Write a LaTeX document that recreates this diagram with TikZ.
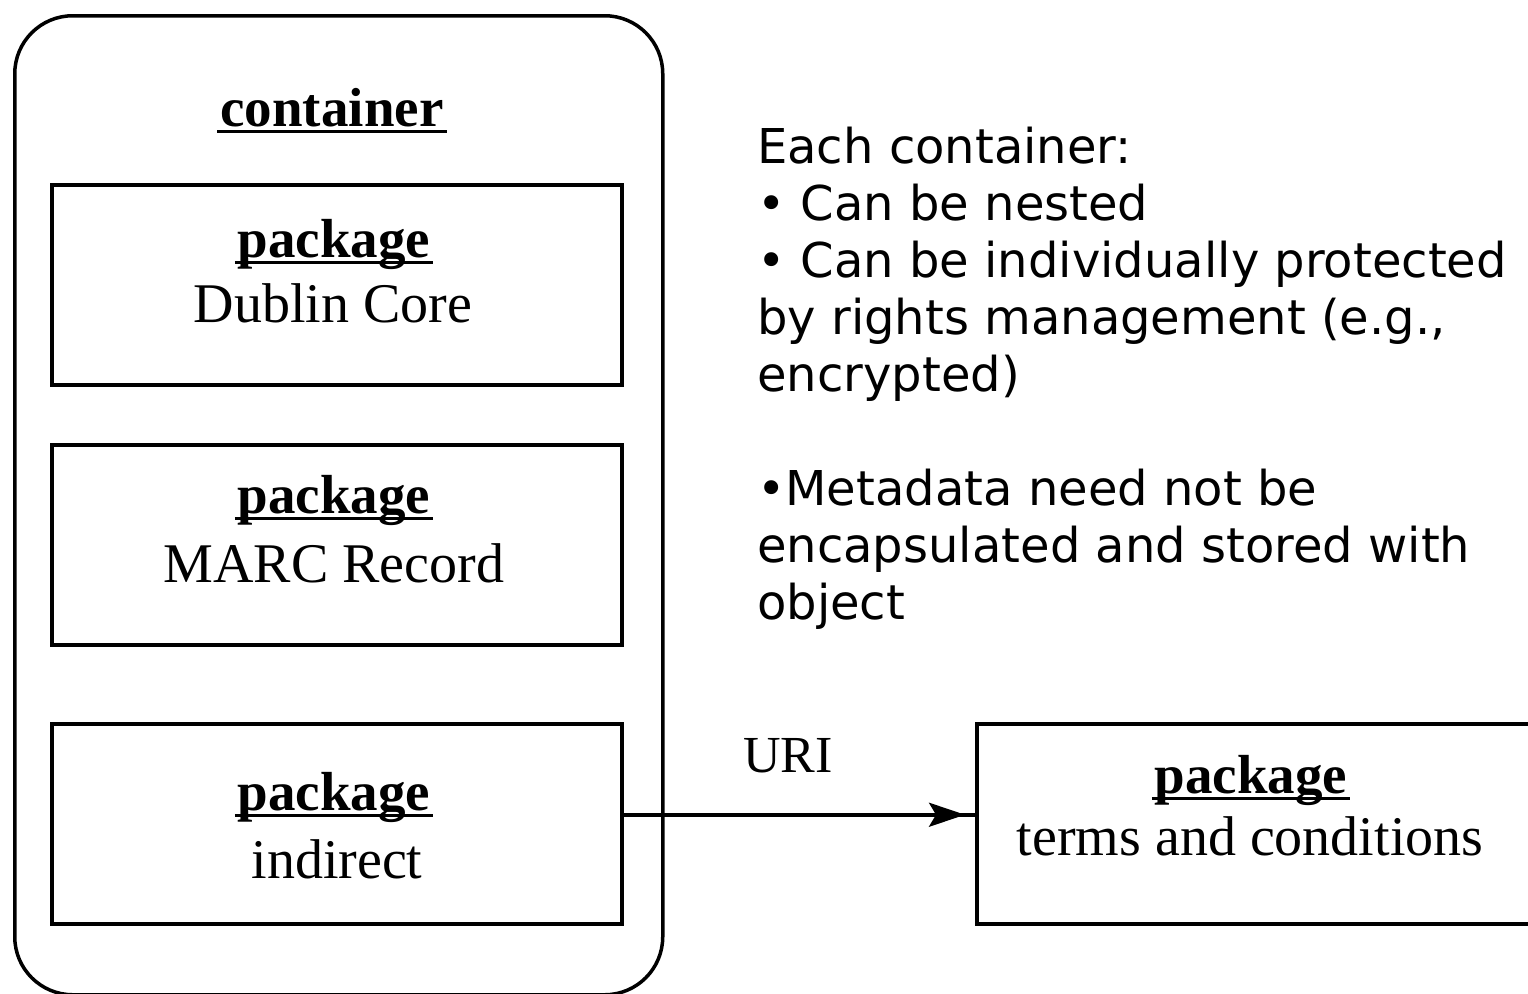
\documentclass[tikz,border=0pt]{standalone}
\usepackage{fontspec}
\setmainfont{Liberation Serif}
\newfontfamily\notefont{DejaVu Sans}
\usetikzlibrary{arrows.meta}

% bold heading with a thick underline
\newcommand\ultitle[1]{\setbox0=\hbox{\bfseries #1}\rlap{\hskip-3pt\rule[-7pt]{\dimexpr\wd0+6pt\relax}{3pt}}\box0}

\begin{document}
\begin{tikzpicture}[x=1pt,y=-1pt,
  frame/.style={draw=black, line width=3.5pt},
  pkgbox/.style={frame, inner sep=0pt, minimum width=570pt, minimum height=200pt, anchor=north west},
  lbl/.style={inner sep=0pt, anchor=base, font=\fontsize{56}{60}\selectfont},
  ttl/.style={inner sep=0pt, anchor=base, font=\fontsize{55}{60}\selectfont\bfseries},
  note/.style={inner sep=0pt, anchor=north west, align=left, font=\notefont\fontsize{48}{57}\selectfont},
  link/.style={line width=3.5pt},
]
\useasboundingbox (0,0) rectangle (1528,993);
\fill[white] (0,0) rectangle (1528,993);

% outer container
\node[frame, rounded corners=58pt, inner sep=0pt, minimum width=648pt, minimum height=979pt, anchor=north west] (cont) at (13,14) {};
\node[ttl] (ctitle) at (332,126) {\ultitle{container}};

% packages inside the container
\node[pkgbox] (b1) at (50,183) {};
\node[ttl] (b1t) at (334,257) {\ultitle{package}};
\node[lbl] (b1n) at (333,322) {Dublin Core};

\node[pkgbox] (b2) at (50,443) {};
\node[ttl] (b2t) at (334,513) {\ultitle{package}};
\node[lbl] (b2n) at (334,582) {MARC Record};

\node[pkgbox] (b3) at (50,722) {};
\node[ttl] (b3t) at (334,810) {\ultitle{package}};
\node[lbl] (b3n) at (337,878) {indirect};

% referenced package
\node[pkgbox] (rb) at (975,722) {};
\node[ttl] (rbt) at (1251,793) {\ultitle{package}};
\node[lbl] (rbn) at (1250,855) {terms and conditions};

% URI link, a little above the box middles
\draw[link] ([yshift=9pt]b3.east) -- ([yshift=9pt]rb.west);
\draw[link, -{Stealth[length=36pt, width=24pt, inset=7pt]}, shorten >=10pt] ([yshift=9pt]b3.east) -- ([yshift=9pt]rb.west);
\node[lbl, font=\fontsize{52}{56}\selectfont] (uri) at (788,772) {URI};

% notes
\node[note] (notes) at (757,127) {Each container:\\
• Can be nested\\
• Can be individually protected\\
by rights management (e.g.,\\
encrypted)\\[57pt]
•Metadata need not be\\
encapsulated and stored with\\
object};
\end{tikzpicture}
\end{document}
